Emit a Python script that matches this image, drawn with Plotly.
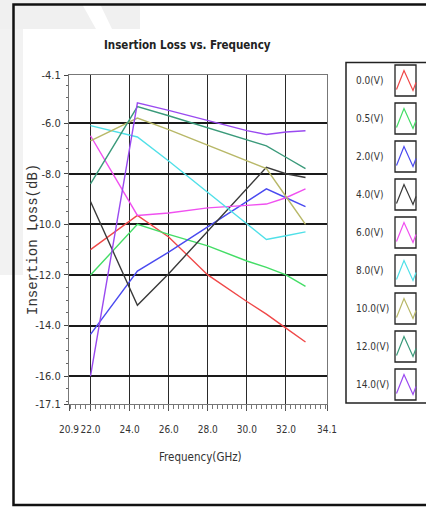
import plotly.graph_objects as go

W, H = 426, 508

# Measurement frequencies (GHz)
freq = [22.0, 24.4, 26.0, 28.0, 30.0, 31.0, 32.0, 33.0]

# Insertion loss (dB) per control voltage
loss_0v0 = [-11.0, -9.65, -10.5, -12.0, -13.05, -13.55, -14.1, -14.65]
loss_0v5 = [-12.0, -10.0, -10.4, -10.85, -11.45, -11.7, -12.0, -12.45]
loss_2v0 = [-14.35, -11.85, -11.1, -10.1, -9.1, -8.6, -8.95, -9.3]
loss_4v0 = [-9.1, -13.2, -11.95, -10.27, -8.6, -7.75, -8.0, -8.15]
loss_6v0 = [-6.5, -9.65, -9.55, -9.35, -9.25, -9.2, -8.95, -8.6]
loss_8v0 = [-6.1, -6.55, -7.5, -8.73, -9.98, -10.6, -10.45, -10.3]
loss_10v0 = [-6.7, -5.8, -6.26, -6.88, -7.49, -7.8, -8.9, -10.0]
loss_12v0 = [-8.4, -5.35, -5.71, -6.18, -6.66, -6.9, -7.35, -7.8]
loss_14v0 = [-16.0, -5.2, -5.5, -5.9, -6.3, -6.45, -6.35, -6.3]

series_names = ["0.0(V)", "0.5(V)", "2.0(V)", "4.0(V)", "6.0(V)",
                "8.0(V)", "10.0(V)", "12.0(V)", "14.0(V)"]
series_values = [loss_0v0, loss_0v5, loss_2v0, loss_4v0, loss_6v0,
                 loss_8v0, loss_10v0, loss_12v0, loss_14v0]
series_colors = ["#f04848", "#44dd66", "#4a4af0", "#3a3a3a", "#f050f0",
                 "#50e0e8", "#b8b868", "#3a9a7a", "#9a4af0"]

x_ticks = [20.9, 22.0, 24.0, 26.0, 28.0, 30.0, 32.0, 34.1]
y_ticks = [-4.1, -6.0, -8.0, -10.0, -12.0, -14.0, -16.0, -17.1]

NARROW = "DejaVu Sans Condensed, Liberation Sans Narrow, Liberation Sans, sans-serif"


def px(x):
    return x / W


def py(y):
    return 1 - y / H


fig = go.Figure()
for name, vals, col in zip(series_names, series_values, series_colors):
    fig.add_trace(go.Scatter(x=freq, y=vals, mode="lines", name=name,
                             line=dict(color=col, width=1.4),
                             showlegend=False))

shapes = []
annotations = []

# faint background band in the upper-left corner
shapes.append(dict(type="rect", xref="paper", yref="paper",
                   x0=0, x1=px(140), y0=py(29), y1=1,
                   fillcolor="#f0f0f0", line=dict(width=0), layer="below"))
shapes.append(dict(type="rect", xref="paper", yref="paper",
                   x0=0, x1=px(23), y0=py(275), y1=py(29),
                   fillcolor="#f2f2f2", line=dict(width=0), layer="below"))
shapes.append(dict(type="path", xref="paper", yref="paper",
                   path=f"M {px(82)},{py(4)} L {px(100)},{py(4)} L {px(112)},{py(29)} L {px(96)},{py(29)} Z",
                   fillcolor="#ffffff", line=dict(width=0), layer="below"))

# outer frame
shapes.append(dict(type="rect", xref="paper", yref="paper",
                   x0=px(13.5), x1=1.05, y0=py(505), y1=py(4.5),
                   line=dict(color="#111111", width=2.5)))

# legend box
shapes.append(dict(type="rect", xref="paper", yref="paper",
                   x0=px(346), x1=1.05, y0=py(403), y1=py(62.5),
                   line=dict(color="#222222", width=1.5)))

for i, (name, col) in enumerate(zip(series_names, series_colors)):
    yc = 80.5 + 38.0 * i
    annotations.append(dict(x=px(354), y=py(yc), xref="paper", yref="paper",
                            xanchor="left", yanchor="middle", showarrow=False,
                            text=name, font=dict(family=NARROW, size=10,
                                                 color="#333333")))
    shapes.append(dict(type="rect", xref="paper", yref="paper",
                       x0=px(395), x1=px(416), y0=py(yc + 15.5), y1=py(yc - 15.5),
                       line=dict(color="#222222", width=1.3)))
    shapes.append(dict(type="path", xref="paper", yref="paper",
                       path=(f"M {px(396.5)},{py(yc + 9)} L {px(404)},{py(yc - 10)} "
                             f"L {px(413)},{py(yc + 10)} L {px(416)},{py(yc + 2)}"),
                       line=dict(color=col, width=1.2)))

# chart title and axis titles
annotations.append(dict(x=px(187), y=py(45), xref="paper", yref="paper",
                        text="<b>Insertion Loss vs. Frequency</b>", showarrow=False,
                        xanchor="center", yanchor="middle",
                        font=dict(family=NARROW, size=11.5, color="#222222")))
annotations.append(dict(x=px(33), y=py(240), xref="paper", yref="paper",
                        text="Insertion Loss(dB)", showarrow=False, textangle=-90,
                        xanchor="center", yanchor="middle",
                        font=dict(family="Liberation Mono, DejaVu Sans Mono, monospace",
                                  size=14, color="#333333")))
annotations.append(dict(x=px(200), y=py(457), xref="paper", yref="paper",
                        text="Frequency(GHz)", showarrow=False,
                        xanchor="center", yanchor="middle",
                        font=dict(family=NARROW, size=11.5, color="#333333")))

fig.update_layout(
    template="none",
    width=W, height=H,
    margin=dict(l=0, r=0, t=0, b=0, pad=0),
    paper_bgcolor="white", plot_bgcolor="white",
    shapes=shapes, annotations=annotations,
    showlegend=False,
    xaxis=dict(
        domain=[px(69), px(327)], range=[20.9, 34.1],
        automargin=False,
        tickmode="array", tickvals=x_ticks,
        ticktext=[f"{v:.1f}" for v in x_ticks],
        tickangle=0,
        ticks="outside", ticklen=6, tickcolor="#555555", tickwidth=1,
        minor=dict(dtick=0.25, tick0=22.0, ticks="outside", ticklen=4,
                   tickcolor="#777777", showgrid=False),
        showgrid=True, gridcolor="#2a2a2a", gridwidth=1.3,
        showline=True, linecolor="#777777", linewidth=1, mirror=True,
        zeroline=False,
        tickfont=dict(family=NARROW, size=10, color="#333333"),
        ticklabelstandoff=10,
    ),
    yaxis=dict(
        domain=[py(404), py(75)], range=[-17.1, -4.1],
        automargin=False,
        tickmode="array", tickvals=y_ticks,
        ticktext=[f"{v:.1f}" for v in y_ticks],
        ticks="outside", ticklen=4, tickcolor="#444444", tickwidth=1.2,
        minor=dict(dtick=0.5, tick0=-4.0, ticks="outside", ticklen=2,
                   tickcolor="#666666", showgrid=False),
        showgrid=True, gridcolor="#1a1a1a", gridwidth=2,
        showline=True, linecolor="#777777", linewidth=1, mirror=True,
        zeroline=False,
        tickfont=dict(family=NARROW, size=11, color="#333333"),
        ticklabelstandoff=1,
    ),
)

fig.write_html("out.html")
